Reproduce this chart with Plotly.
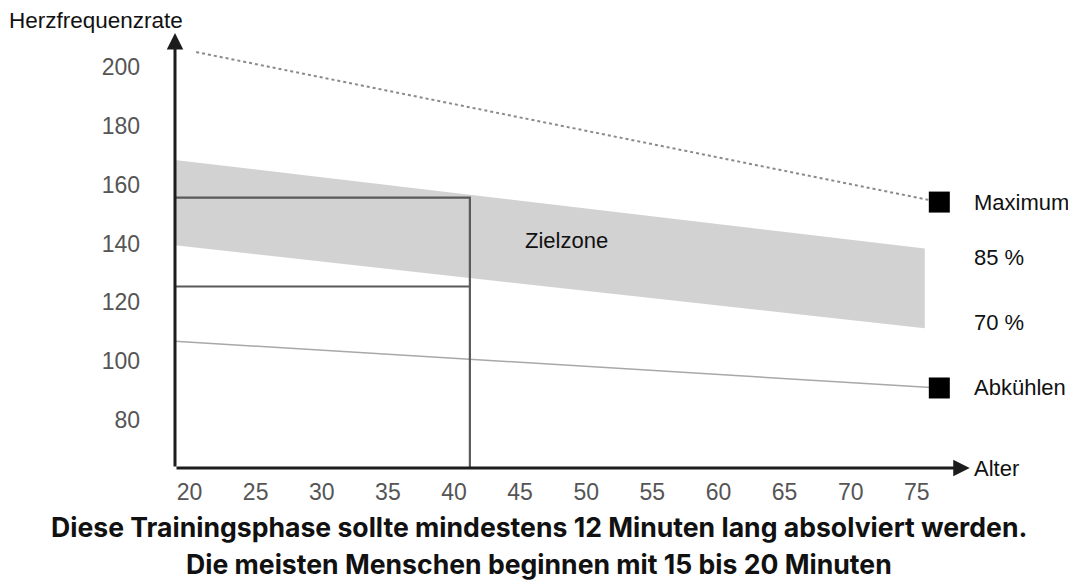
import plotly.graph_objects as go

# ---- data ----
x_ticks = [20, 25, 30, 35, 40, 45, 50, 55, 60, 65, 70, 75]
y_ticks = [80, 100, 120, 140, 160, 180, 200]

band_ages = [18.9, 75.6]
band_upper = [168.4, 138.3]   # 85 %
band_lower = [139.4, 111.2]   # 70 %

max_ages = [20.5, 76.7]
max_vals = [205.1, 154.1]

cool_ages = [18.9, 76.7]
cool_vals = [106.8, 90.9]

marker_ages = [76.7, 76.7]
marker_vals = [154.1, 90.9]

example_age = 41.2
example_upper = 155.6
example_lower = 125.4

axis_x0 = 18.9
axis_y0 = 63.7
axis_x_end = 79.0
axis_y_end = 211.6

label_age = 79.2
right_labels = ["Maximum", "85 %", "70 %", "Abkühlen"]
right_label_vals = [154.1, 135.4, 113.3, 90.9]

zone_label = "Zielzone"
zone_label_pos = (48.5, 141.0)

y_title = "Herzfrequenzrate"
x_title = "Alter"
caption_lines = [
    "Diese Trainingsphase sollte mindestens 12 Minuten lang absolviert werden.",
    "Die meisten Menschen beginnen mit 15 bis 20 Minuten",
]

FONT = "Liberation Sans, Arial, sans-serif"
OFF = 8                      # page body margin of the html page
W, H = 1076 - OFF, 584 - OFF
ML, MT = 175 - OFF, 30 - OFF
MR = W - (1016 - OFF)
MB = H - (468 - OFF)
PW, PH = W - ML - MR, H - MT - MB


def px_x(p):
    return (p - OFF - ML) / PW


def px_y(p):
    return (H - MB - (p - OFF)) / PH


fig = go.Figure()

# target zone band
fig.add_trace(go.Scatter(x=band_ages, y=band_lower, mode="lines",
                         line=dict(width=0, color="rgba(0,0,0,0)"),
                         hoverinfo="skip", showlegend=False))
fig.add_trace(go.Scatter(x=band_ages, y=band_upper, mode="lines",
                         line=dict(width=0, color="rgba(0,0,0,0)"),
                         fill="tonexty", fillcolor="#d2d2d2",
                         hoverinfo="skip", showlegend=False))

# maximum (dotted)
fig.add_trace(go.Scatter(x=max_ages, y=max_vals, mode="lines",
                         line=dict(color="#8a8a8a", width=2, dash="dot"),
                         hoverinfo="skip", showlegend=False))
# cool down (thin solid)
fig.add_trace(go.Scatter(x=cool_ages, y=cool_vals, mode="lines",
                         line=dict(color="#a8a8a8", width=1.5),
                         hoverinfo="skip", showlegend=False))

# example at age ~41
fig.add_trace(go.Scatter(x=[axis_x0, example_age, example_age],
                         y=[example_upper, example_upper, axis_y0],
                         mode="lines", line=dict(color="#5a5a5a", width=2.2),
                         hoverinfo="skip", showlegend=False))
fig.add_trace(go.Scatter(x=[axis_x0, example_age],
                         y=[example_lower, example_lower],
                         mode="lines", line=dict(color="#5a5a5a", width=2.2),
                         hoverinfo="skip", showlegend=False))

# square markers
fig.add_trace(go.Scatter(x=marker_ages, y=marker_vals, mode="markers",
                         marker=dict(symbol="square", size=21, color="#000000"),
                         cliponaxis=False, hoverinfo="skip", showlegend=False))

annotations = []
# axes with arrowheads
annotations.append(dict(x=axis_x0, y=axis_y_end, ax=axis_x0, ay=axis_y0,
                        xref="x", yref="y", axref="x", ayref="y",
                        showarrow=True, arrowhead=2, arrowsize=1.1,
                        arrowwidth=3, arrowcolor="#1c1c1c", text=""))
annotations.append(dict(x=axis_x_end, y=axis_y0, ax=axis_x0, ay=axis_y0,
                        xref="x", yref="y", axref="x", ayref="y",
                        showarrow=True, arrowhead=2, arrowsize=1.1,
                        arrowwidth=3, arrowcolor="#1c1c1c", text=""))

LBL = 22
for txt, v in zip(right_labels, right_label_vals):
    annotations.append(dict(x=label_age, y=v, xref="x", yref="y", text=txt,
                            showarrow=False, xanchor="left", yanchor="middle",
                            font=dict(family=FONT, size=LBL, color="#111111")))

annotations.append(dict(x=zone_label_pos[0], y=zone_label_pos[1], xref="x", yref="y",
                        text=zone_label, showarrow=False,
                        font=dict(family=FONT, size=LBL, color="#111111")))

annotations.append(dict(x=label_age, y=axis_y0, xref="x", yref="y", text=x_title,
                        showarrow=False, xanchor="left", yanchor="middle",
                        font=dict(family=FONT, size=LBL, color="#111111")))
# y title (paper coordinates, pixel based)
annotations.append(dict(x=px_x(7), y=px_y(20), xref="paper", yref="paper",
                        text=y_title, showarrow=False, xanchor="left", yanchor="middle",
                        font=dict(family=FONT, size=22.5, color="#111111")))

for txt, py in zip(caption_lines, [527, 564]):
    annotations.append(dict(x=px_x(539), y=px_y(py), xref="paper", yref="paper",
                            text="<b>" + txt + "</b>", showarrow=False,
                            xanchor="center", yanchor="middle",
                            font=dict(family="Inter, sans-serif", size=26.6, color="#111111")))

fig.update_layout(
    width=W, height=H,
    margin=dict(l=ML, r=MR, t=MT, b=MB, autoexpand=False),
    paper_bgcolor="white", plot_bgcolor="white",
    annotations=annotations,
    xaxis=dict(range=[axis_x0, 82.5], tickvals=x_ticks, showgrid=False,
               zeroline=False, showline=False, ticks="", automargin=False,
               ticklabelstandoff=8,
               tickfont=dict(family=FONT, size=23, color="#555555")),
    yaxis=dict(range=[axis_y0, 212.6], tickvals=y_ticks, showgrid=False,
               zeroline=False, showline=False, ticks="", automargin=False,
               ticklabelstandoff=34,
               tickfont=dict(family=FONT, size=23, color="#555555")),
)

fig.write_html("out.html")
